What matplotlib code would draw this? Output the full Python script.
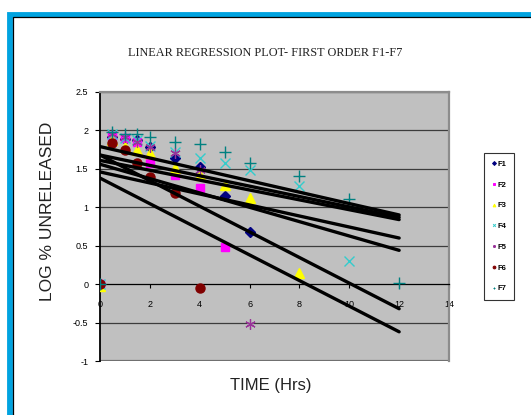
import numpy as np
import matplotlib
matplotlib.use("Agg")
import matplotlib.pyplot as plt
from matplotlib.patches import Rectangle
from matplotlib.lines import Line2D

plt.rcParams["font.family"] = ["Liberation Sans", "DejaVu Sans"]

# ---- data ----
time = [0, 0.5, 1, 1.5, 2, 3, 4, 5, 6, 8, 10, 12]
nan = np.nan
f1 = [0, 1.92, 1.89, 1.87, 1.78, 1.64, 1.53, 1.15, 0.68, nan, nan, nan]
f2 = [0, 1.93, 1.90, 1.85, 1.58, 1.42, 1.25, 0.48, nan, nan, nan, nan]
f3 = [-0.03, 1.88, 1.78, 1.74, 1.70, 1.51, 1.42, 1.29, 1.12, 0.14, nan, nan]
f4 = [0, 1.95, 1.90, 1.88, 1.80, 1.72, 1.64, 1.57, 1.48, 1.28, 0.30, nan]
f5 = [0, 1.96, 1.92, 1.85, 1.78, 1.70, 1.48, nan, -0.52, nan, nan, nan]
f6 = [0, 1.84, 1.74, 1.57, 1.40, 1.18, -0.05, nan, nan, nan, nan, nan]
f7 = [0, 1.98, 1.96, 1.96, 1.92, 1.85, 1.82, 1.72, 1.57, 1.41, 1.11, 0.01]
labels = ["F1", "F2", "F3", "F4", "F5", "F6", "F7"]

# regression trendlines (value at t=0 and at t=12)
trend_start = [1.79, 1.68, 1.61, 1.68, 1.56, 1.46, 1.38]
trend_end = [0.90, 0.87, 0.84, -0.32, 0.44, 0.60, -0.62]
trend_t = [0, 12]

series = [f1, f2, f3, f4, f5, f6, f7]
styles = [
    dict(marker="D", color="#000080", ms=5.5, mec="#000080"),
    dict(marker="s", color="#FF00FF", ms=5.5, mec="#FF00FF"),
    dict(marker="^", color="#FFFF00", ms=6.5, mec="#FFFF00"),
    dict(marker="x", color="#33CCCC", ms=7.5, mew=1.0),
    dict(marker=(6, 2, 0), color="#993399", ms=7.5, mew=0.9),
    dict(marker="o", color="#800000", ms=6.5, mec="#800000"),
    dict(marker="+", color="#008080", ms=8.5, mew=1.0),
]

fig = plt.figure(figsize=(5.31, 4.15), dpi=100)

# outer frame (blue border + thin black line)
fig.patches.append(Rectangle((10 / 531, -0.2), 1.5, 1.2 - 14.5 / 415,
                             transform=fig.transFigure, fill=False,
                             edgecolor="#00A3E0", linewidth=4.2, zorder=0))
fig.patches.append(Rectangle((13.2 / 531, -0.2), 1.5, 1.2 - 17.3 / 415,
                             transform=fig.transFigure, fill=False,
                             edgecolor="black", linewidth=0.9, zorder=0))

ax = fig.add_axes([100 / 531, 1 - 361 / 415, 349 / 531, 269 / 415])
ax.set_facecolor("#C0C0C0")

for vals, st, lab in zip(series, styles, labels):
    ax.plot(time, vals, linestyle="none", label=lab, zorder=3, **st)

for a, b in zip(trend_start, trend_end):
    ax.plot(trend_t, [a, b], color="black", lw=2.4, solid_capstyle="round", zorder=4)

ax.set_xlim(0, 14)
ax.set_ylim(-1, 2.5)
ax.set_xticks(np.arange(0, 15, 2))
ax.set_yticks(np.arange(-1, 2.6, 0.5))
ax.set_yticklabels(["-1", "-0.5", "0", "0.5", "1", "1.5", "2", "2.5"])
for yv in np.arange(-1, 2.6, 0.5):
    if yv != 0:
        ax.axhline(yv, color="#3C3C3C", lw=0.9, zorder=1)

ax.spines["bottom"].set_position(("data", 0))
ax.spines["bottom"].set_color("black")
ax.spines["bottom"].set_linewidth(0.9)
ax.spines["left"].set_color("black")
ax.spines["left"].set_linewidth(1.3)
for s in ["top", "right"]:
    ax.spines[s].set_color("#8C8C8C")
    ax.spines[s].set_linewidth(1.6)
ax.axhline(-1, color="#707070", lw=1.6, zorder=1)

ax.tick_params(axis="x", direction="out", length=3, width=0.8, pad=8.5,
               labelsize=6.5, colors="black")
ax.tick_params(axis="y", direction="out", length=3.5, width=0.8, pad=5,
               labelsize=6.5)

ax.set_xlabel("TIME (Hrs)", fontsize=12, color="#222222")
ax.xaxis.set_label_coords(0.49, -0.063)
ax.set_ylabel("LOG % UNRELEASED", fontsize=12.5, color="#222222")
ax.yaxis.set_label_coords(-0.128, 0.555)

fig.text(265 / 531, 1 - 53 / 415, "LINEAR REGRESSION PLOT- FIRST ORDER F1-F7",
         ha="center", va="center", fontsize=8.8,
         family=["Liberation Serif", "DejaVu Serif"], color="#222222")

handles = [Line2D([], [], linestyle="none", marker=st["marker"], color=st["color"],
                  ms=2.0, mew=0.7) for st in styles]
leg = fig.legend(handles, labels, loc="center",
                 bbox_to_anchor=(499 / 531, 1 - 226.5 / 415),
                 fontsize=5.5, frameon=True, fancybox=False,
                 handlelength=0.5, handletextpad=0.2, labelspacing=1.75,
                 borderpad=1.0, borderaxespad=0)
leg.get_frame().set_edgecolor("black")
leg.get_frame().set_linewidth(0.8)
for t in leg.get_texts():
    t.set_fontweight("bold")

fig.savefig("out.png", dpi=100, facecolor="white")
